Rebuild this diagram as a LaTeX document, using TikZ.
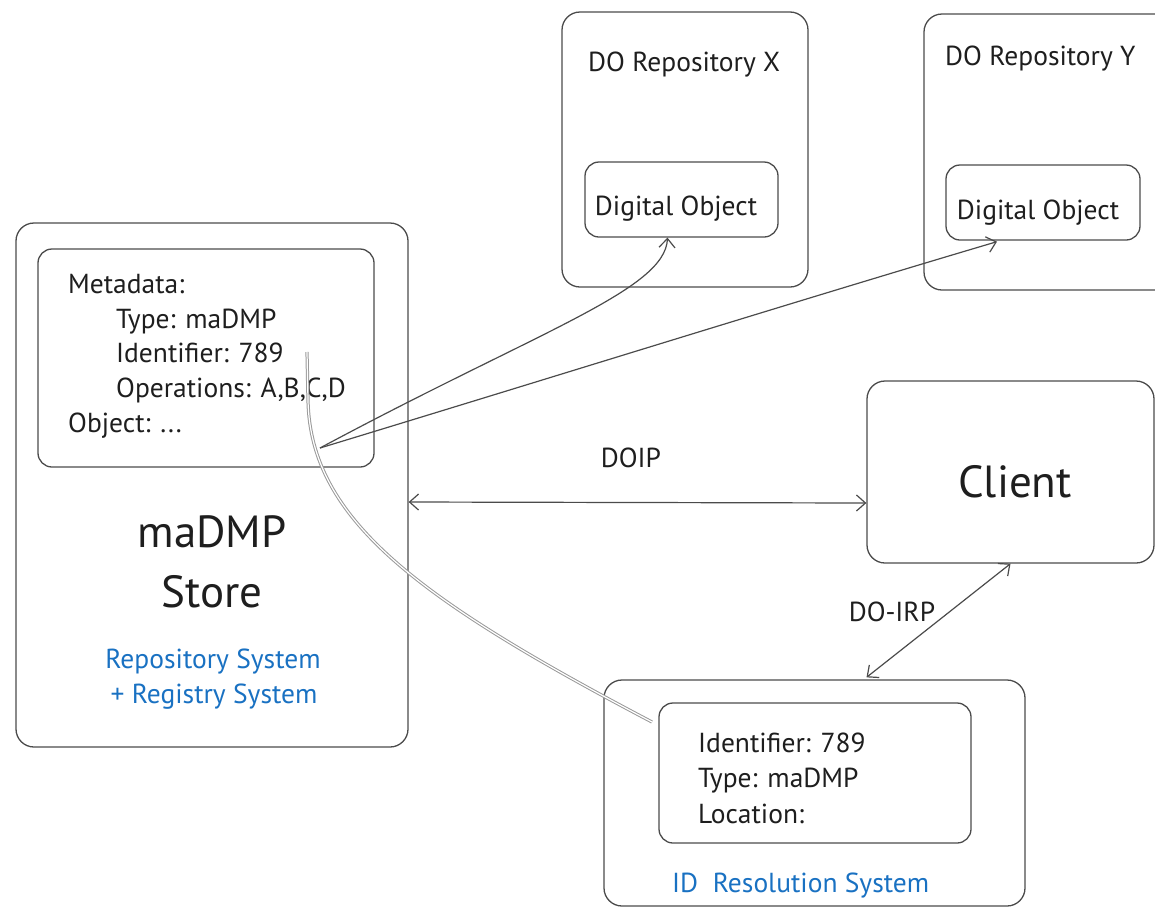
\documentclass[tikz,border=0pt]{standalone}
\usepackage{fontspec}
\setmainfont{PT Sans}
\usetikzlibrary{arrows.meta,calc}
\definecolor{ink}{HTML}{1E1E1E}
\definecolor{note}{HTML}{1971C2}
\definecolor{trace}{HTML}{9A9A9A}
\begin{document}
\begin{tikzpicture}[x=1pt,y=-1pt,
  box/.style={draw=ink!80, line width=1.3pt, rounded corners=18pt, inner sep=0pt},
  innerbox/.style={box, rounded corners=14pt},
  txt/.style={font=\fontsize{27.5}{32}\selectfont, text=ink, inner sep=0pt, anchor=base west},
  bluetxt/.style={txt, text=note},
  bigtxt/.style={font=\fontsize{45}{50}\selectfont, text=ink, inner sep=0pt, anchor=base},
  link/.style={draw=ink!80, line width=1.2pt,
    arrows={-Straight Barb[length=9pt,width=16pt,line width=1.2pt]}},
  both/.style={link, arrows={Straight Barb[length=9pt,width=16pt,line width=1.2pt]-Straight Barb[length=9pt,width=16pt,line width=1.2pt]}},
  ghost/.style={draw=trace, line width=1pt, double=white, double distance=1.2pt}
]
\useasboundingbox (0,0) rectangle (1155,911);

% maDMP store with its metadata record
\node[box, minimum width=392pt, minimum height=524pt] (store) at (212,485) {};
\node[innerbox, minimum width=336pt, minimum height=218pt] (meta) at (206,358) {};
\node[txt] (m1) at (68,293) {Metadata:};
\node[txt] (m2) at (116,328) {Type: maDMP};
\node[txt] (m3) at (116,362) {Identifier: 789};
\node[txt] (m4) at (116,397) {Operations: A,B,C,D};
\node[txt] (m5) at (68,432) {Object: ...};
\node[bigtxt] (s1) at (212,547) {maDMP};
\node[bigtxt] (s2) at (212,607) {Store};
\node[bluetxt, anchor=base] (s3) at (213,668) {Repository System};
\node[bluetxt, anchor=base] (s4) at (214,703) {+ Registry System};

% digital object repositories
\node[box, minimum width=246pt, minimum height=275pt] (repoX) at (685,149.5) {};
\node[txt] (rx) at (588,71) {DO Repository X};
\node[innerbox, minimum width=193pt, minimum height=75pt] (doX) at (681.5,199.5) {};
\node[txt, anchor=base] (dx) at (676,215) {Digital Object};

\node[box, minimum width=260pt, minimum height=276pt] (repoY) at (1054,152) {};
\node[txt] (ry) at (945,65) {DO Repository Y};
\node[innerbox, minimum width=194pt, minimum height=75pt] (doY) at (1043,202.5) {};
\node[txt, anchor=base] (dy) at (1038,219) {Digital Object};

% client
\node[box, minimum width=287pt, minimum height=182pt] (client) at (1010.5,472) {};
\node[bigtxt] (cl) at (1015,497) {Client};

% identifier resolution system
\node[box, minimum width=421pt, minimum height=226pt] (idsys) at (814.5,793) {};
\node[innerbox, minimum width=312pt, minimum height=140pt] (idrec) at (815,773) {};
\node[txt] (i1) at (698,752) {Identifier: 789};
\node[txt] (i2) at (698,787) {Type: maDMP};
\node[txt] (i3) at (698,823) {Location:};
\node[bluetxt] (i4) at (672,892) {ID\ \ Resolution System};

% protocol labels
\node[txt, anchor=base] (doip) at (631,467) {DOIP};
\node[txt, anchor=base] (doirp) at (892,621) {DO-IRP};

% connectors
\coordinate (src) at (320,448);
\coordinate (tail) at (307,352);
\coordinate (head) at (652,722);

\draw[link] (src) .. controls (540,330) and (665,290) .. ($(doX.south)+(-14,0)$);
\draw[link] (src) .. controls (560,375) and (800,300) .. ($(doY.south)+(-46,1)$);
\draw[both] ($(store.east)+(0,17)$) -- ($(client.west)+(0,31)$);
\draw[both] (client.south) -- ($(idsys.north)+(52,-2)$);
\draw[ghost] (tail) -- (308,400) .. controls (310,520) and (420,600) .. (head);
\end{tikzpicture}
\end{document}
